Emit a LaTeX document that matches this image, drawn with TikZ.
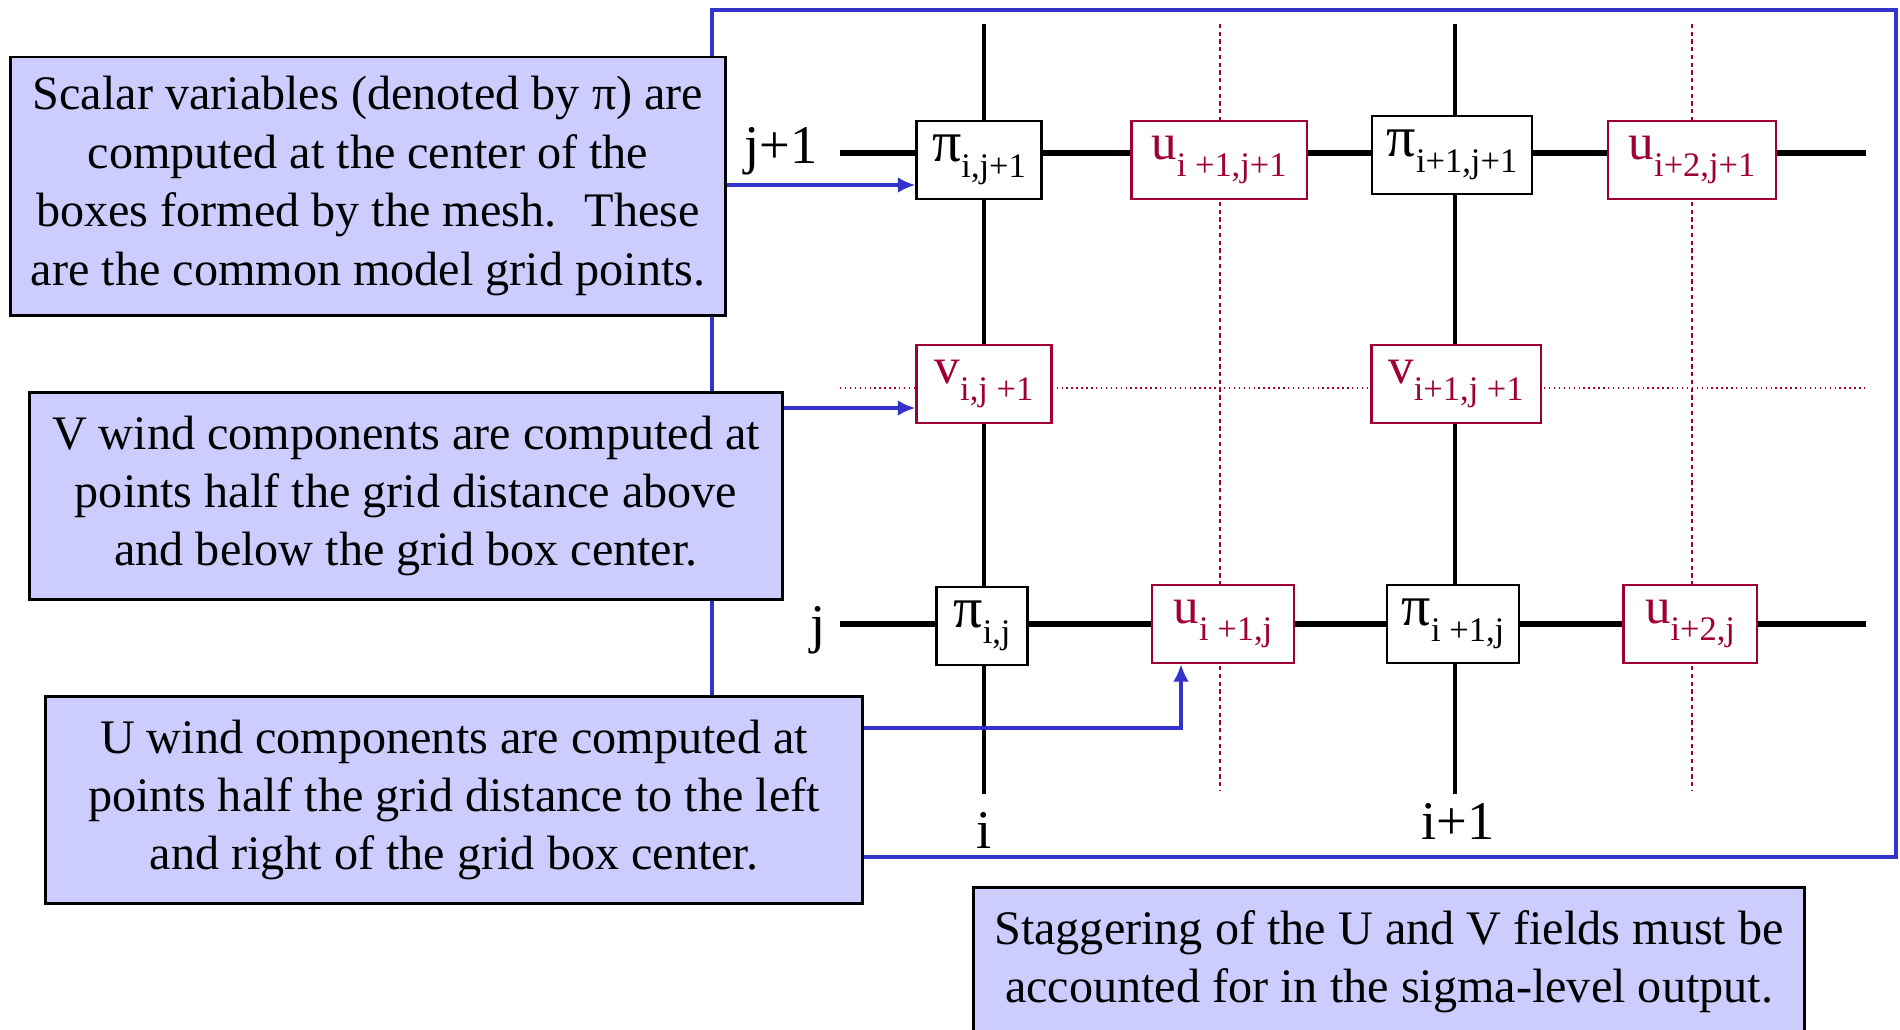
\documentclass[tikz,border=0pt]{standalone}
\usepackage{fontspec}
\setmainfont{Liberation Serif}
\usepackage{tikz}
\usetikzlibrary{arrows.meta}
\definecolor{lavender}{HTML}{CCCCFF}
\definecolor{frameblue}{HTML}{3333CC}
\definecolor{windred}{HTML}{A00030}
\newcommand{\gv}[2]{#1\raisebox{-0.7ex}{\fontsize{9.8}{10}\selectfont #2}}
\newcommand{\gpi}{{\fontsize{16.5}{16}\selectfont π}}

\begin{document}
\begin{tikzpicture}[x=0.01cm,y=-0.01cm,
  note/.style={rectangle,draw=black,line width=0.8pt,fill=lavender,align=center,inner sep=0pt,font=\fontsize{13.7}{16.6}\selectfont},
  pibox/.style={rectangle,draw=black,line width=0.6pt,fill=white,inner sep=0pt,minimum height=0.78cm,font=\fontsize{14.5}{15}\selectfont},
  windbox/.style={pibox,draw=windred,text=windred},
  gridlab/.style={inner sep=0pt,font=\fontsize{15.5}{16}\selectfont},
  mesh/.style={black,line width=1pt},
  meshrow/.style={black,line width=1.5pt},
  halfcol/.style={windred,line width=0.35pt,dash pattern=on 1.2pt off 1pt},
  halfrow/.style={windred,line width=0.4pt,densely dotted},
  arr/.style={-{Latex[length=5pt,width=4.5pt]},frameblue,line width=1.3pt}]
\useasboundingbox (0,0) rectangle (1900,1029);

% mesh lines
\draw[halfcol] (1220,24) -- (1220,790);
\draw[halfcol] (1692,24) -- (1692,790);
\draw[halfrow] (840,388) -- (1866,388);
\draw[mesh] (984,24) -- (984,794);
\draw[mesh] (1455,24) -- (1455,794);
\draw[meshrow] (840,153) -- (1866,153);
\draw[meshrow] (840,624) -- (1866,624);

\node[gridlab] (jone) at (781,151) {j+1};
\node[gridlab] (jzero) at (818,630) {j};
\node[gridlab] (izero) at (984,830) {i};
\node[gridlab] (ione) at (1458,821) {i+1};

% row j+1
\node[pibox,minimum width=1.25cm] (pij1) at (979,160) {\gv{\gpi}{i,j+1}};
\node[windbox,minimum width=1.75cm] (uij1) at (1219,160) {\gv{u}{i +1,j+1}};
\node[pibox,minimum width=1.60cm] (pi1j1) at (1452,155) {\gv{\gpi}{i+1,j+1}};
\node[windbox,minimum width=1.68cm] (ui2j1) at (1692,160) {\gv{u}{i+2,j+1}};
% v points
\node[windbox,minimum width=1.35cm] (vij1) at (984,384) {\gv{v}{i,j +1}};
\node[windbox,minimum width=1.69cm] (vi1j1) at (1456,384) {\gv{v}{i+1,j +1}};
% row j
\node[pibox,minimum width=0.91cm] (pij) at (982,626) {\gv{\gpi}{i,j}};
\node[windbox,minimum width=1.42cm] (ui1j) at (1223,624) {\gv{u}{i +1,j}};
\node[pibox,minimum width=1.32cm] (pi1j) at (1453,624) {\gv{\gpi}{i +1,j}};
\node[windbox,minimum width=1.33cm] (ui2j) at (1690,624) {\gv{u}{i+2,j}};

% frame round the mesh
\draw[frameblue,line width=0.9pt] (712,10) rectangle (1896,857);

\node[note,minimum width=7.14cm,minimum height=2.58cm] (scalar) at (368,186) {Scalar variables (denoted by π) are\\computed at the center of the\\boxes formed by the mesh.~ These\\are the common model grid points.};
\node[note,minimum width=7.52cm,minimum height=2.07cm] (vwind) at (406,496) {V wind components are computed at\\points half the grid distance above\\and below the grid box center.};
\node[note,minimum width=8.16cm,minimum height=2.07cm] (uwind) at (454,800) {U wind components are computed at\\points half the grid distance to the left\\and right of the grid box center.};
\begin{scope}
\clip (0,0) rectangle (1900,1029);
\node[note,minimum width=8.31cm,minimum height=1.49cm] (stagger) at (1389,962) {Staggering of the U and V fields must be\\accounted for in the sigma-level output.};
\end{scope}

\draw[arr] (scalar.east |- 0,185) -- (pij1.west |- 0,185);
\draw[arr] (vwind.east |- 0,408) -- (vij1.west |- 0,408);
\draw[arr] (uwind.east |- 0,728) -| (ui1j.south -| 1181,0);
\end{tikzpicture}
\end{document}
